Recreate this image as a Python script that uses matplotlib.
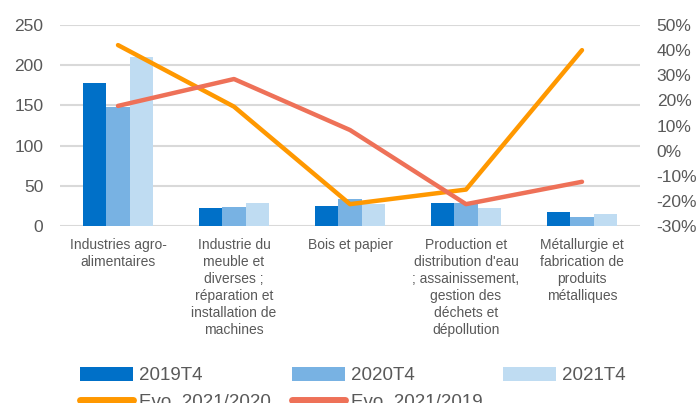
import numpy as np
import matplotlib
matplotlib.use("Agg")
import matplotlib.pyplot as plt
from matplotlib.ticker import FuncFormatter

plt.rcParams['font.family'] = ['Liberation Sans', 'DejaVu Sans']

# Data
categories = ["Industries agro-\nalimentaires",
              "Industrie du\nmeuble et\ndiverses ;\nréparation et\ninstallation de\nmachines",
              "Bois et papier",
              "Production et\ndistribution d'eau\n; assainissement,\ngestion des\ndéchets et\ndépollution",
              "Métallurgie et\nfabrication de\nproduits\nmétalliques"]
v2019 = [178, 22, 25, 29, 17]
v2020 = [148, 24, 34, 28, 11]
v2021 = [210, 28, 27, 23, 15]
evo_21_20 = [0.42, 0.175, -0.213, -0.155, 0.40]
evo_21_19 = [0.178, 0.285, 0.082, -0.213, -0.124]

grey = "#595959"
fig = plt.figure(figsize=(7, 4.03), dpi=100)
ax = fig.add_axes([60/700, 1 - 226/403, 580/700, 201/403])
x = np.arange(len(categories))
w = 0.2

b1 = ax.bar(x - w, v2019, w, color="#0070C8", label="2019T4", zorder=2)
b2 = ax.bar(x, v2020, w, color="#78B2E3", label="2020T4", zorder=2)
b3 = ax.bar(x + w, v2021, w, color="#BFDCF2", label="2021T4", zorder=2)

ax.set_ylim(0, 250)
ax.set_xlim(-0.5, len(categories) - 0.5)
ax.set_yticks(range(0, 251, 50))
ax.grid(axis='y', color="#d9d9d9", linewidth=1.5, zorder=0)
for s in ax.spines.values():
    s.set_visible(False)
ax.tick_params(axis='both', length=0, colors=grey)
ax.tick_params(axis='y', labelsize=12.5, pad=12)
ax.set_xticks(x)
ax.set_xticklabels(categories, fontsize=10, color=grey, linespacing=1.27)
ax.tick_params(axis='x', pad=9)

ax2 = ax.twinx()
l1, = ax2.plot(x, evo_21_20, color="#FF9800", linewidth=3.2, label="Evo. 2021/2020",
               solid_capstyle='round', zorder=3)
l2, = ax2.plot(x, evo_21_19, color="#EE7158", linewidth=3.2, label="Evo. 2021/2019",
               solid_capstyle='round', zorder=3)
ax2.set_ylim(-0.3, 0.5)
ax2.set_yticks(np.arange(-0.3, 0.51, 0.1))
ax2.yaxis.set_major_formatter(FuncFormatter(lambda v, p: "{:.0f}%".format(v * 100)))
for s in ax2.spines.values():
    s.set_visible(False)
ax2.tick_params(axis='y', length=0, colors=grey, labelsize=12.5, pad=12)

handles = [b1, l1, b2, l2, b3]
labels = [h.get_label() for h in handles]
leg = fig.legend(handles, labels, ncol=3, loc='upper left', bbox_to_anchor=(80/700, 1 - 367/403),
                 frameon=False, fontsize=13.5, labelcolor=grey, handlelength=2.85,
                 handleheight=0.75, handletextpad=0.3, columnspacing=1.1, labelspacing=0.5,
                 borderaxespad=0, borderpad=0)
for h in leg.legend_handles:
    if hasattr(h, "set_linewidth") and not hasattr(h, "get_height"):
        h.set_linewidth(5)

fig.savefig("out.png", dpi=100)
